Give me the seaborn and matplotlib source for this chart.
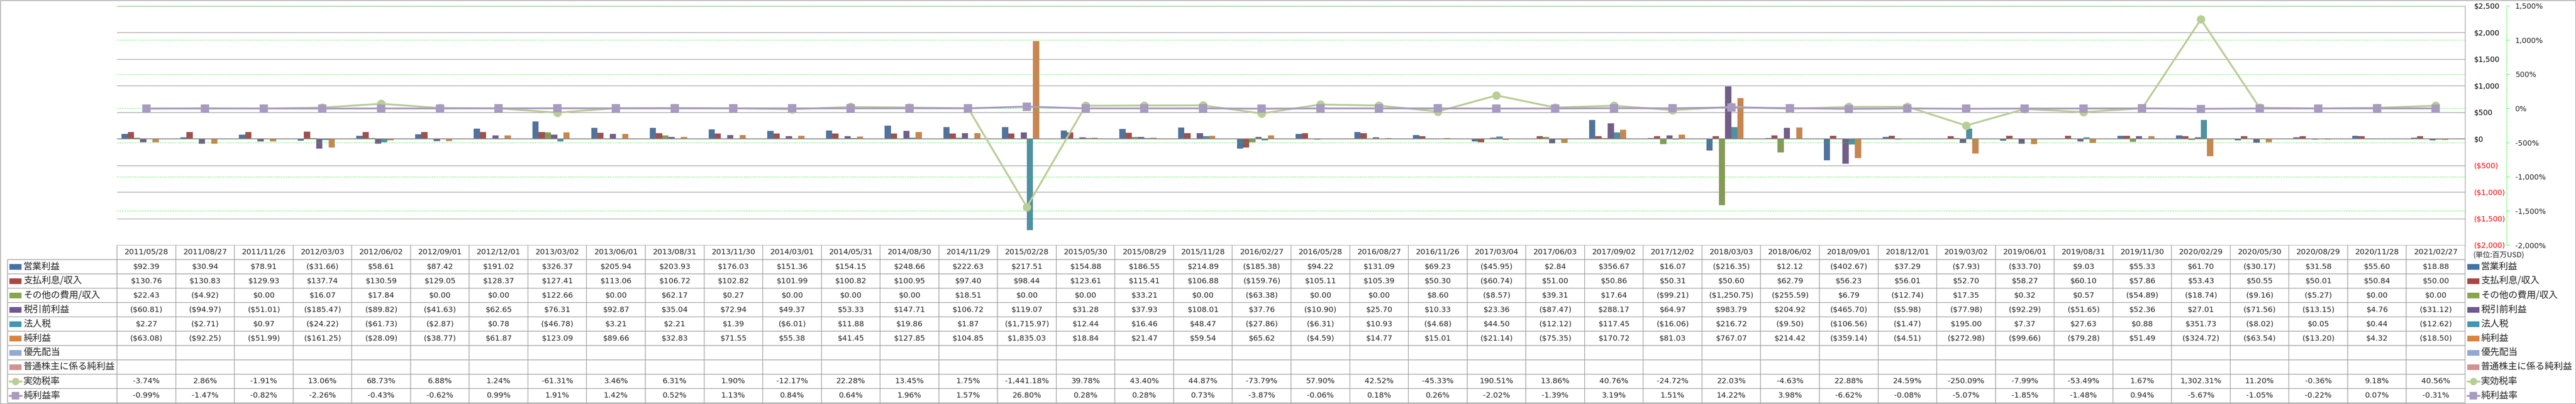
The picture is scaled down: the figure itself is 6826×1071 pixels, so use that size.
import numpy as np
import pandas as pd
import seaborn as sns
import matplotlib.pyplot as plt
from matplotlib.lines import Line2D
from matplotlib.patches import Rectangle

sns.set_style('white')
plt.rcParams['font.family'] = ['DejaVu Sans', 'Noto Sans CJK JP']
CJK = ['Noto Sans CJK JP', 'DejaVu Sans']

dates = ['2011/05/28', '2011/08/27', '2011/11/26', '2012/03/03', '2012/06/02',
         '2012/09/01', '2012/12/01', '2013/03/02', '2013/06/01', '2013/08/31',
         '2013/11/30', '2014/03/01', '2014/05/31', '2014/08/30', '2014/11/29',
         '2015/02/28', '2015/05/30', '2015/08/29', '2015/11/28', '2016/02/27',
         '2016/05/28', '2016/08/27', '2016/11/26', '2017/03/04', '2017/06/03',
         '2017/09/02', '2017/12/02', '2018/03/03', '2018/06/02', '2018/09/01',
         '2018/12/01', '2019/03/02', '2019/06/01', '2019/08/31', '2019/11/30',
         '2020/02/29', '2020/05/30', '2020/08/29', '2020/11/28', '2021/02/27']

bar_names = ['営業利益', '支払利息/収入', 'その他の費用/収入', '税引前利益',
             '法人税', '純利益', '優先配当', '普通株主に係る純利益']
rate_names = ['実効税率', '純利益率']

operating_income = [92.39, 30.94, 78.91, -31.66, 58.61, 87.42, 191.02, 326.37,
                    205.94, 203.93, 176.03, 151.36, 154.15, 248.66, 222.63,
                    217.51, 154.88, 186.55, 214.89, -185.38, 94.22, 131.09,
                    69.23, -45.95, 2.84, 356.67, 16.07, -216.35, 12.12,
                    -402.67, 37.29, -7.93, -33.70, 9.03, 55.33, 61.70, -30.17,
                    31.58, 55.60, 18.88]
interest = [130.76, 130.83, 129.93, 137.74, 130.59, 129.05, 128.37, 127.41,
            113.06, 106.72, 102.82, 101.99, 100.82, 100.95, 97.40, 98.44,
            123.61, 115.41, 106.88, -159.76, 105.11, 105.39, 50.30, -60.74,
            51.00, 50.86, 50.31, 50.60, 62.79, 56.23, 56.01, 52.70, 58.27,
            60.10, 57.86, 53.43, 50.55, 50.01, 50.84, 50.00]
other = [22.43, -4.92, 0.00, 16.07, 17.84, 0.00, 0.00, 122.66, 0.00, 62.17,
         0.27, 0.00, 0.00, 0.00, 18.51, 0.00, 0.00, 33.21, 0.00, -63.38, 0.00,
         0.00, 8.60, -8.57, 39.31, 17.64, -99.21, -1250.75, -255.59, 6.79,
         -12.74, 17.35, 0.32, 0.57, -54.89, -18.74, -9.16, -5.27, 0.00, 0.00]
pretax = [-60.81, -94.97, -51.01, -185.47, -89.82, -41.63, 62.65, 76.31, 92.87,
          35.04, 72.94, 49.37, 53.33, 147.71, 106.72, 119.07, 31.28, 37.93,
          108.01, 37.76, -10.90, 25.70, 10.33, 23.36, -87.47, 288.17, 64.97,
          983.79, 204.92, -465.70, -5.98, -77.98, -92.29, -51.65, 52.36, 27.01,
          -71.56, -13.15, 4.76, -31.12]
tax = [2.27, -2.71, 0.97, -24.22, -61.73, -2.87, 0.78, -46.78, 3.21, 2.21, 1.39,
       -6.01, 11.88, 19.86, 1.87, -1715.97, 12.44, 16.46, 48.47, -27.86, -6.31,
       10.93, -4.68, 44.50, -12.12, 117.45, -16.06, 216.72, -9.50, -106.56,
       -1.47, 195.00, 7.37, 27.63, 0.88, 351.73, -8.02, 0.05, 0.44, -12.62]
net_income = [-63.08, -92.25, -51.99, -161.25, -28.09, -38.77, 61.87, 123.09,
              89.66, 32.83, 71.55, 55.38, 41.45, 127.85, 104.85, 1835.03, 18.84,
              21.47, 59.54, 65.62, -4.59, 14.77, 15.01, -21.14, -75.35, 170.72,
              81.03, 767.07, 214.42, -359.14, -4.51, -272.98, -99.66, -79.28,
              51.49, -324.72, -63.54, -13.20, 4.32, -18.50]
# the two last bar series are empty in the source
preferred_div = [np.nan] * len(dates)
common_net = [np.nan] * len(dates)

eff_tax_rate = [-3.74, 2.86, -1.91, 13.06, 68.73, 6.88, 1.24, -61.31, 3.46, 6.31,
                1.90, -12.17, 22.28, 13.45, 1.75, -1441.18, 39.78, 43.40, 44.87,
                -73.79, 57.90, 42.52, -45.33, 190.51, 13.86, 40.76, -24.72,
                22.03, -4.63, 22.88, 24.59, -250.09, -7.99, -53.49, 1.67,
                1302.31, 11.20, -0.36, 9.18, 40.56]
net_margin = [-0.99, -1.47, -0.82, -2.26, -0.43, -0.62, 0.99, 1.91, 1.42, 0.52,
              1.13, 0.84, 0.64, 1.96, 1.57, 26.80, 0.28, 0.28, 0.73, -3.87,
              -0.06, 0.18, 0.26, -2.02, -1.39, 3.19, 1.51, 14.22, 3.98, -6.62,
              -0.08, -5.07, -1.85, -1.48, 0.94, -5.67, -1.05, -0.22, 0.07, -0.31]

bar_colors = ['#4572A7', '#AA4643', '#89A54E', '#71588F', '#4198AF', '#DB843D',
              '#93A9CF', '#D19392']
line_colors = ['#B9CD96', '#A89BC0']

dollar_ticks = np.arange(-2000, 2501, 500)
pct_ticks = np.arange(-2000, 1501, 500)


def fmt_dollar(v, dec=2):
    s = '$' + format(abs(v), ',.%df' % dec)
    return '(' + s + ')' if v < 0 else s


def fmt_pct(v, dec=2):
    return format(v, ',.%df' % dec) + '%'


bar_values = [operating_income, interest, other, pretax, tax, net_income,
              preferred_div, common_net]
n = len(dates)
bars = pd.DataFrame({'date': np.tile(dates, len(bar_names)),
                     'series': np.repeat(bar_names, n),
                     'value': np.concatenate(bar_values)})
rates = pd.DataFrame({'date': np.tile(dates, 2),
                      'series': np.repeat(rate_names, n),
                      'value': np.concatenate([eff_tax_rate, net_margin])})

W, H = 6826, 1071
L, R, T, B = 310, 6532, 15.6, 650
fig = plt.figure(figsize=(W / 100, H / 100), dpi=100)
ax1 = fig.add_axes([L / W, 1 - B / H, (R - L) / W, (B - T) / H])

sns.barplot(data=bars, x='date', y='value', hue='series', order=dates,
            hue_order=bar_names, palette=bar_colors, width=0.844,
            errorbar=None, linewidth=0, legend=False, ax=ax1)
ax1.set_axisbelow(True)
ax1.set_xlim(-0.5, n - 0.5)
ax1.set_ylim(-2000, 2500)
ax1.set_xticks([])
ax1.set_xlabel('')
ax1.set_ylabel('')
ax1.grid(axis='y', color='#8C8C8C', lw=1)
ax1.axhline(0, color='#868686', lw=1.6, zorder=1)
for s in ['left', 'top', 'bottom']:
    ax1.spines[s].set_visible(False)
ax1.spines['right'].set_color('#8C8C8C')
ax1.spines['right'].set_linewidth(1)

ax2 = ax1.twinx()
# twinx moves the first axis' ticks to the left, so put them back on the right
ax1.yaxis.tick_right()
ax1.set_yticks(dollar_ticks)
labs = ax1.set_yticklabels([fmt_dollar(v, 0) for v in dollar_ticks])
for lab, v in zip(labs, dollar_ticks):
    lab.set_color('#FF0000' if v < 0 else 'black')
ax1.tick_params(axis='y', length=0, pad=16.5, labelsize=14,
                labelleft=False, labelright=True)

sns.pointplot(data=rates, x='date', y='value', hue='series', order=dates,
              hue_order=rate_names, palette=line_colors, markers=['o', 's'],
              linestyles=['-', '-'], errorbar=None, legend=False, ax=ax2,
              linewidth=3.5, markersize=16, markeredgewidth=0)
ax2.set_xlim(-0.5, n - 0.5)
ax2.set_ylim(-2000, 1500)
ax2.set_xticks([])
ax2.set_xlabel('')
ax2.set_ylabel('')
ax2.set_yticks(pct_ticks)
labs = ax2.set_yticklabels([fmt_pct(v, 0) for v in pct_ticks])
for lab, v in zip(labs, pct_ticks):
    lab.set_color('#FF0000' if v < 0 else 'black')
ax2.tick_params(axis='y', color='#00FF00', length=5.8, width=0.8, pad=10.8,
                labelsize=14)
ax2.grid(axis='y', color='#00FF00', ls=(0, (3, 3)), lw=0.8)
for s in ['left', 'top', 'bottom']:
    ax2.spines[s].set_visible(False)
ax2.spines['right'].set_position(('axes', (6642 - L) / (R - L)))
ax2.spines['right'].set_color('#00FF00')
ax2.spines['right'].set_linestyle((0, (3, 3)))
ax2.spines['right'].set_linewidth(0.8)

# data table under the plot
tb = fig.add_axes([0, 0, 1, 1], zorder=-1)
tb.set_xlim(0, W)
tb.set_ylim(H, 0)
tb.axis('off')
cw = (R - L) / n
top, rh = 688, 38
grid_c = '#9A9A9A'
tb.add_patch(Rectangle((0.5, 0.5), W - 1.5, H - 1.5, fill=False,
                       ec='#8C8C8C', lw=1))
tb.hlines(B, L, R, color=grid_c, lw=1.2)
tb.hlines([top + rh * k for k in range(11)], 20, R, color=grid_c, lw=1.2)
tb.vlines([L + cw * i for i in range(n + 1)], B, top + rh * 10, color=grid_c,
          lw=1.2)
tb.vlines(20, top, top + rh * 10, color=grid_c, lw=1.2)

for i, d in enumerate(dates):
    tb.text(L + cw * (i + 0.5), (B + top) / 2, d, ha='center', va='center',
            fontsize=14.5)

table_rows = [[fmt_dollar(v) for v in s] for s in bar_values[:6]]
table_rows += [[''] * n, [''] * n]
table_rows += [[fmt_pct(v) for v in eff_tax_rate],
               [fmt_pct(v) for v in net_margin]]
all_names = bar_names + rate_names
all_colors = bar_colors + line_colors


def draw_key(x0, yc, k):
    if k < len(bar_names):
        tb.add_patch(Rectangle((x0, yc - 7.5), 32, 15, color=all_colors[k], lw=0))
    else:
        mk = 'o' if all_names[k] == '実効税率' else 's'
        tb.add_line(Line2D([x0, x0 + 32], [yc, yc], color=all_colors[k], lw=3.5))
        tb.plot([x0 + 16], [yc], marker=mk, ms=14, color=all_colors[k], mew=0)


for k, row in enumerate(table_rows):
    yc = top + rh * k + rh / 2
    draw_key(25, yc, k)
    tb.text(62, yc, all_names[k], ha='left', va='center', fontsize=17.5,
            family=CJK)
    draw_key(6538, yc, k)
    tb.text(6574, yc, all_names[k], ha='left', va='center', fontsize=17.5,
            family=CJK)
    for i, txt in enumerate(row):
        tb.text(L + cw * (i + 0.5), yc, txt, ha='center', va='center',
                fontsize=14.5)

tb.text(6553, 677, '(単位:百万USD)', ha='left', va='center', fontsize=14,
        family=CJK)

fig.savefig('out.png', dpi=100)
